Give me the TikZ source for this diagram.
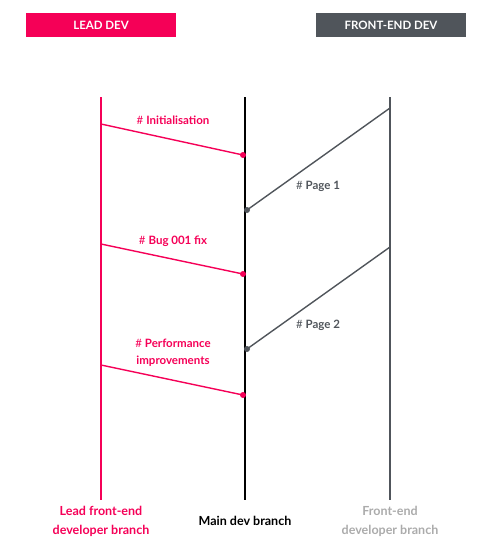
\documentclass[tikz,border=0pt]{standalone}
\usepackage{fontspec}
\setmainfont{Lato}
\definecolor{leadred}{HTML}{F50057}
\definecolor{feslate}{HTML}{50555B}
\definecolor{fepale}{HTML}{ABABAB}
\begin{document}
\begin{tikzpicture}[x=1pt,y=-1pt,
  header/.style={minimum width=150pt,minimum height=24pt,inner sep=0pt,text=white,font=\bfseries\fontsize{11.5}{13}\selectfont},
  branch/.style={line width=2pt},
  merge/.style={line width=1.4pt},
  dot/.style={circle,inner sep=0pt,minimum size=6pt},
  tag/.style={font=\bfseries\fontsize{11.5}{17}\selectfont,align=center},
  foot/.style={font=\bfseries\fontsize{12.5}{19}\selectfont,align=center}]
\useasboundingbox (0,0) rectangle (498,554);
% team headers
\node[header,fill=leadred] (hlead) at (101,25) {LEAD DEV};
\node[header,fill=feslate] (hfe) at (391,25) {FRONT-END DEV};
% branch ends
\coordinate (leadtop) at (101,97);
\coordinate (leadbot) at (101,500);
\coordinate (maintop) at (245,97);
\coordinate (mainbot) at (245,500);
\coordinate (fetop) at (390,97);
\coordinate (febot) at (390,500);
% branches
\draw[branch,leadred] (leadtop) -- (leadbot);
\draw[branch,black] (maintop) -- (mainbot);
\draw[branch,feslate] (fetop) -- (febot);
% lead dev merges
\coordinate (l1) at (101,124);
\coordinate (l2) at (101,244);
\coordinate (l3) at (101,365);
\node[dot,fill=leadred] (m1) at (243,155) {};
\node[dot,fill=leadred] (m2) at (243,274) {};
\node[dot,fill=leadred] (m3) at (243,395) {};
\draw[merge,leadred] (l1) -- (m1.center);
\draw[merge,leadred] (l2) -- (m2.center);
\draw[merge,leadred] (l3) -- (m3.center);
% front-end merges
\coordinate (f1) at (390,108);
\coordinate (f2) at (390,247);
\node[dot,fill=feslate] (p1) at (247,210) {};
\node[dot,fill=feslate] (p2) at (247,349) {};
\draw[merge,feslate] (f1) -- (p1.center);
\draw[merge,feslate] (f2) -- (p2.center);
% commit labels
\node[tag,text=leadred] (t1) at (173,120) {\mdseries\#\ \bfseries Initialisation};
\node[tag,text=leadred] (t2) at (173,241) {\mdseries\#\ \bfseries Bug 001 fix};
\node[tag,text=leadred] (t3) at (173,352.5) {\mdseries\#\ \bfseries Performance\\improvements};
\node[tag,text=feslate] (t4) at (318,186) {\mdseries\#\ \bfseries Page 1};
\node[tag,text=feslate] (t5) at (318,325) {\mdseries\#\ \bfseries Page 2};
% branch names
\node[foot,text=leadred] (n1) at (101,521.5) {Lead front-end\\developer branch};
\node[foot,text=black] (n2) at (245,521) {Main dev branch};
\node[foot,text=fepale] (n3) at (390,521.5) {Front-end\\developer branch};
\end{tikzpicture}
\end{document}
